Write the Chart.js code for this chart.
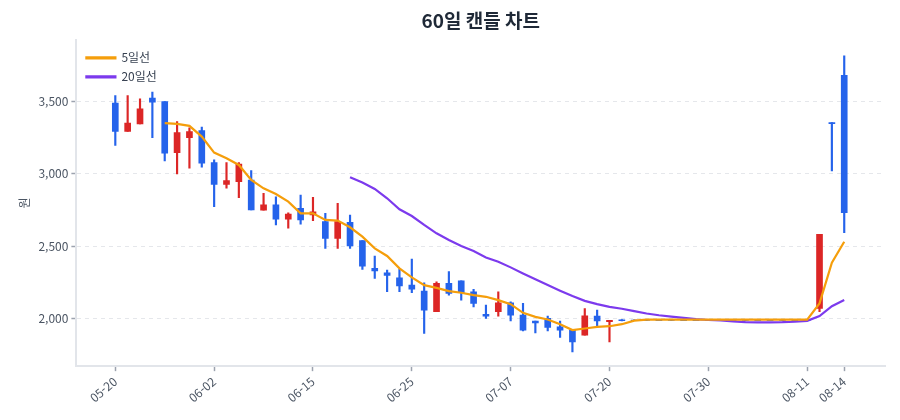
<!DOCTYPE html>
<html lang="ko">
<head>
<meta charset="utf-8">
<title>60일 캔들 차트</title>
<script src="https://cdn.jsdelivr.net/npm/chart.js@4.4.1/dist/chart.umd.min.js"></script>
<style>
  html, body { margin: 0; padding: 0; background: #fff; }
  #wrap { width: 900px; height: 420px; }
</style>
</head>
<body>
<div id="wrap"><canvas id="candle-chart"></canvas></div>
<script>
// trading days (only some of them get a tick label)
var dates = [
    '05-20', '05-21', '05-22', '05-23', '05-26', '05-27', '05-28', '05-29',
    '06-02', '06-03', '06-04', '06-05', '06-09', '06-10', '06-11', '06-12',
    '06-15', '06-16', '06-17', '06-18', '06-19', '06-20', '06-23', '06-24',
    '06-25', '06-26', '06-27', '06-30', '07-01', '07-02', '07-03', '07-04',
    '07-07', '07-08', '07-09', '07-10', '07-11', '07-14', '07-15', '07-16',
    '07-20', '07-21', '07-22', '07-23', '07-24', '07-25', '07-28', '07-29',
    '07-30', '07-31', '08-01', '08-04', '08-05', '08-06', '08-07', '08-08',
    '08-11', '08-12', '08-13', '08-14'
];
var tickIdx = [0, 8, 16, 24, 32, 40, 48, 56, 59];
var yTicks = [2000, 2500, 3000, 3500];

var opens = [
    3491, 3294, 3347, 3526, 3502, 3148, 3252, 3301, 3078, 2928,
    2947, 2958, 2748, 2785, 2687, 2762, 2715, 2669, 2553, 2665,
    2537, 2345, 2315, 2280, 2229, 2187, 2044, 2241, 2259, 2183,
    2026, 2044, 2106, 2021, 1979, 1998, 1940, 1917, 1882, 2014,
    1975, 1988, 1987, 1988, 1987, 1988, 1987, 1987, 1988, 1987,
    1987, 1988, 1987, 1987, 1988, 1987, 1987, 2067, 3356, 3683
];
var highs = [
    3544, 3544, 3521, 3567, 3502, 3363, 3319, 3324, 3097, 3078,
    3078, 3023, 2866, 2842, 2731, 2854, 2838, 2727, 2796, 2715,
    2537, 2431, 2333, 2340, 2410, 2245, 2252, 2322, 2259, 2199,
    2090, 2183, 2113, 2102, 1979, 2014, 1979, 1917, 2067, 2056,
    1985, 1990, 1989, 1989, 1989, 1989, 1989, 1989, 1989, 1989,
    1989, 1989, 1989, 1989, 1989, 1989, 1989, 2581, 3356, 3819
];
var lows = [
    3197, 3294, 3347, 3252, 3090, 3000, 3040, 3046, 2773, 2901,
    2835, 2750, 2748, 2646, 2623, 2651, 2676, 2484, 2484, 2484,
    2338, 2276, 2183, 2183, 2176, 1894, 2044, 2160, 2125, 2078,
    1998, 2014, 1981, 1912, 1898, 1912, 1866, 1766, 1882, 1944,
    1835, 1980, 1982, 1982, 1982, 1982, 1982, 1982, 1982, 1982,
    1982, 1982, 1982, 1982, 1982, 1982, 1982, 2044, 3021, 2592
];
var closes = [
    3294, 3352, 3451, 3498, 3144, 3287, 3294, 3074, 2928, 2953,
    3069, 2750, 2785, 2687, 2722, 2681, 2738, 2553, 2669, 2500,
    2361, 2328, 2297, 2224, 2201, 2056, 2241, 2172, 2176, 2102,
    2014, 2106, 2021, 1917, 1967, 1935, 1917, 1835, 2016, 1981,
    1985, 1983, 1983, 1984, 1983, 1984, 1983, 1983, 1984, 1983,
    1983, 1984, 1983, 1983, 1984, 1983, 1983, 2581, 3348, 2731
];

// moving averages
var ma5 = [
    null, null, null, null, 3352, 3347, 3333, 3259, 3148, 3109,
    3062, 2958, 2900, 2861, 2808, 2727, 2727, 2681, 2676, 2630,
    2565, 2484, 2431, 2345, 2283, 2229, 2210, 2187, 2176, 2160,
    2148, 2125, 2097, 2037, 2009, 1991, 1958, 1917, 1928, 1940,
    1944, 1958, 1983, 1990, 1989, 1990, 1989, 1989, 1989, 1989,
    1989, 1989, 1989, 1989, 1989, 1989, 1990, 2102, 2384, 2530
];
var ma20 = [
    null, null, null, null, null, null, null, null, null, null,
    null, null, null, null, null, null, null, null, null, 2977,
    2940, 2896, 2831, 2755, 2708, 2646, 2588, 2542, 2500, 2465,
    2421, 2391, 2352, 2310, 2269, 2229, 2190, 2153, 2120, 2097,
    2078, 2065, 2049, 2032, 2020, 2011, 2002, 1993, 1987, 1984,
    1978, 1973, 1971, 1971, 1972, 1975, 1981, 2014, 2083, 2125
];

var UP = '#dc2626';
var DOWN = '#2563eb';
var FONT = "'Noto Sans CJK KR', 'Noto Sans', sans-serif";

var CandleChart = (function () {

    var candleColor = function (i) {
        return closes[i] >= opens[i] ? UP : DOWN;
    };

    var bodyData = function () {
        return opens.map(function (o, i) {
            return { x: i, y: [o, closes[i]] };
        });
    };

    var wickData = function () {
        return lows.map(function (l, i) {
            return { x: i, y: [l, highs[i]] };
        });
    };

    var lineData = function (arr) {
        return arr.map(function (v, i) {
            return { x: i, y: v };
        });
    };

    var colors = dates.map(function (d, i) { return candleColor(i); });

    // chartArea legends get their top reset to 0, so move it back inside the plot
    var legendInside = {
        id: 'legendInside',
        beforeDraw: function (chart) {
            var lg = chart.legend;
            var area = chart.chartArea;
            var h = lg.bottom - lg.top;
            var w = lg.right - lg.left;
            lg.left = area.left + 3;
            lg.right = lg.left + w;
            lg.top = area.top + 5;
            lg.bottom = lg.top + h;
        }
    };

    var init = function () {
        new Chart('candle-chart', {
            data: {
                datasets: [{
                    type: 'line',
                    label: '5일선',
                    data: lineData(ma5),
                    borderColor: '#f59e0b',
                    backgroundColor: '#f59e0b',
                    borderWidth: 2.2,
                    pointRadius: 0,
                    tension: 0,
                    order: 0
                }, {
                    type: 'line',
                    label: '20일선',
                    data: lineData(ma20),
                    borderColor: '#7c3aed',
                    backgroundColor: '#7c3aed',
                    borderWidth: 2.2,
                    pointRadius: 0,
                    tension: 0,
                    order: 1
                }, {
                    type: 'bar',
                    data: bodyData(),
                    backgroundColor: colors,
                    borderWidth: 0,
                    barThickness: 6,
                    grouped: false,
                    order: 2
                }, {
                    type: 'bar',
                    data: wickData(),
                    backgroundColor: colors,
                    borderWidth: 0,
                    barThickness: 1.5,
                    grouped: false,
                    order: 3
                }]
            },
            plugins: [legendInside],
            options: {
                responsive: true,
                maintainAspectRatio: false,
                animation: false,
                layout: {
                    padding: { left: 13, right: 15, top: 0, bottom: 12 }
                },
                plugins: {
                    title: {
                        display: true,
                        text: '60일 캔들 차트',
                        fullSize: false,
                        color: '#1f2937',
                        font: { family: FONT, size: 19, weight: 'bold' },
                        padding: { top: 9, bottom: 8 }
                    },
                    legend: {
                        position: 'chartArea',
                        align: 'start',
                        labels: {
                            boxWidth: 29,
                            boxHeight: 1,
                            padding: 7,
                            color: '#374151',
                            font: { family: FONT, size: 12 },
                            filter: function (item) { return !!item.text; }
                        }
                    },
                    tooltip: { enabled: false }
                },
                scales: {
                    x: {
                        type: 'linear',
                        min: -3.15,
                        max: 62.3,
                        offset: false,
                        afterBuildTicks: function (scale) {
                            scale.ticks = tickIdx.map(function (i) { return { value: i }; });
                        },
                        ticks: {
                            autoSkip: false,
                            minRotation: 40,
                            maxRotation: 40,
                            color: '#4b5563',
                            font: { family: FONT, size: 12 },
                            callback: function (v) { return dates[v]; }
                        },
                        grid: {
                            offset: false,
                            drawOnChartArea: false,
                            drawTicks: true,
                            tickLength: 5,
                            tickColor: '#9ca3af',
                            tickWidth: 1.5
                        },
                        border: { color: '#e2e5ea', width: 2 }
                    },
                    y: {
                        min: 1667,
                        max: 3930,
                        afterBuildTicks: function (scale) {
                            scale.ticks = yTicks.map(function (v) { return { value: v }; });
                        },
                        ticks: {
                            color: '#4b5563',
                            font: { family: FONT, size: 12 },
                            callback: function (v) { return v.toLocaleString('en-US'); }
                        },
                        grid: {
                            color: '#e5e7eb',
                            tickLength: 5,
                            tickColor: '#9ca3af',
                            tickWidth: 1.5
                        },
                        border: { color: '#e2e5ea', width: 2, dash: [4, 4] },
                        title: {
                            display: true,
                            text: '원',
                            color: '#4b5563',
                            font: { family: FONT, size: 12 }
                        }
                    }
                }
            }
        });
    };

    init();
    return {};
})();
</script>
</body>
</html>
